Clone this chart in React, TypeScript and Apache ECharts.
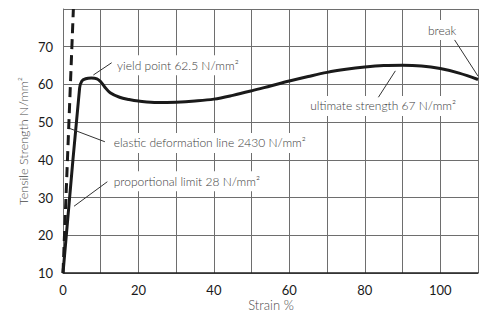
import React, { useEffect, useRef } from "react";
import * as echarts from "echarts";

const strain = [0, 4.4, 5, 6, 7.5, 9, 10, 11, 12.5, 15, 17.5, 20, 25, 30, 35, 40, 45, 50, 55, 60, 65, 70, 75, 80, 85, 90, 95, 100, 105, 110];
const stress = [10, 59, 60.9, 61.5, 61.7, 61.5, 60.7, 59.4, 57.8, 56.6, 56, 55.6, 55.2, 55.3, 55.6, 56.1, 57.1, 58.3, 59.6, 60.9, 62.1, 63.2, 64, 64.6, 65, 65.1, 64.9, 64.2, 63, 61.3];

const elasticStrain = [0, 2.75];
const elasticStress = [10, 80];

const xTicks = [0, 20, 40, 60, 80, 100];
const yTicks = [10, 20, 30, 40, 50, 60, 70];

const annTexts = [
  "yield point 62.5 N/mm²",
  "elastic deformation line 2430 N/mm²",
  "proportional limit 28 N/mm²",
  "ultimate strength 67 N/mm²",
  "break",
];
// text anchor (left edge, vertical middle) in data coords
const annTextX = [13.8, 12.9, 12.9, 65.0, 96.2];
const annTextY = [65.1, 44.5, 34.3, 54.3, 74.4];
// leader lines in data coords
const leadFromX = [8.05, 1.86, 2.92, 83.6, 103.8];
const leadFromY = [62.5, 48.3, 27.7, 56.6, 71.8];
const leadToX = [12.9, 11.1, 11.75, 88.1, 110];
const leadToY = [65.75, 44.8, 34.2, 63.6, 62.2];

const FONT = "Lato, 'Open Sans', sans-serif";

export default function App() {
  const ref = useRef<HTMLDivElement>(null);
  useEffect(() => {
    document.body.style.margin = "0";
    if (!ref.current) return;
    const chart = echarts.init(ref.current, undefined, { renderer: "svg" });
    chart.setOption({
      animation: false,
      backgroundColor: "#fff",
      grid: { left: 63, right: 3, top: 9, bottom: 41 },
      xAxis: {
        type: "value",
        min: 0,
        max: 110,
        interval: 10,
        axisLine: { show: true, lineStyle: { color: "#222", width: 1.5 } },
        axisTick: { show: false },
        axisLabel: {
          margin: 10,
          color: "#1a1a1a",
          fontFamily: FONT,
          fontSize: 13,
          formatter: (v: number) => (xTicks.includes(v) ? String(v) : ""),
        },
        splitLine: { show: true, lineStyle: { color: "#6e6e6e", width: 1 } },
      },
      yAxis: {
        type: "value",
        min: 10,
        max: 80,
        interval: 10,
        axisLine: { show: true, lineStyle: { color: "#6e6e6e", width: 1 } },
        axisTick: { show: false },
        axisLabel: {
          margin: 10,
          color: "#1a1a1a",
          fontFamily: FONT,
          fontSize: 13,
          formatter: (v: number) => (yTicks.includes(v) ? String(v) : ""),
        },
        splitLine: { show: true, lineStyle: { color: "#6e6e6e", width: 1 } },
      },
      series: [
        {
          type: "line",
          data: elasticStrain.map((x, i) => [x, elasticStress[i]]),
          symbol: "none",
          lineStyle: { color: "#1a1a1a", width: 3, type: [10, 6] },
          silent: true,
        },
        {
          type: "line",
          data: strain.map((x, i) => [x, stress[i]]),
          symbol: "none",
          smooth: 0.35,
          lineStyle: { color: "#1a1a1a", width: 3 },
          silent: true,
        },
      ],
    });

    const graphics: any[] = [];
    annTexts.forEach((t, i) => {
      const a = chart.convertToPixel({ gridIndex: 0 }, [leadFromX[i], leadFromY[i]]);
      const b = chart.convertToPixel({ gridIndex: 0 }, [leadToX[i], leadToY[i]]);
      const p = chart.convertToPixel({ gridIndex: 0 }, [annTextX[i], annTextY[i]]);
      graphics.push({
        type: "text",
        x: p[0],
        y: p[1],
        z: 10,
        style: {
          text: t,
          fill: "#3c3c3c",
          font: `300 12px ${FONT}`,
          align: "left",
          verticalAlign: "middle",
          backgroundColor: "#fff",
          padding: [4, 2, 4, 2],
        },
      });
      graphics.push({
        type: "line",
        z: 11,
        shape: { x1: a[0], y1: a[1], x2: b[0], y2: b[1] },
        style: { stroke: "#333", lineWidth: 1 },
      });
    });
    graphics.push({
      type: "text",
      x: 23,
      y: 141,
      rotation: Math.PI / 2,
      style: {
        text: "Tensile Strength N/mm²",
        fill: "#4a4a4a",
        font: `300 12.5px ${FONT}`,
        align: "center",
        verticalAlign: "middle",
      },
    });
    graphics.push({
      type: "text",
      x: 271,
      y: 305,
      style: {
        text: "Strain %",
        fill: "#4a4a4a",
        font: `300 13px ${FONT}`,
        align: "center",
        verticalAlign: "middle",
      },
    });
    chart.setOption({ graphic: graphics });

    return () => chart.dispose();
  }, []);
  return <div ref={ref} style={{ width: 481, height: 314 }} />;
}
